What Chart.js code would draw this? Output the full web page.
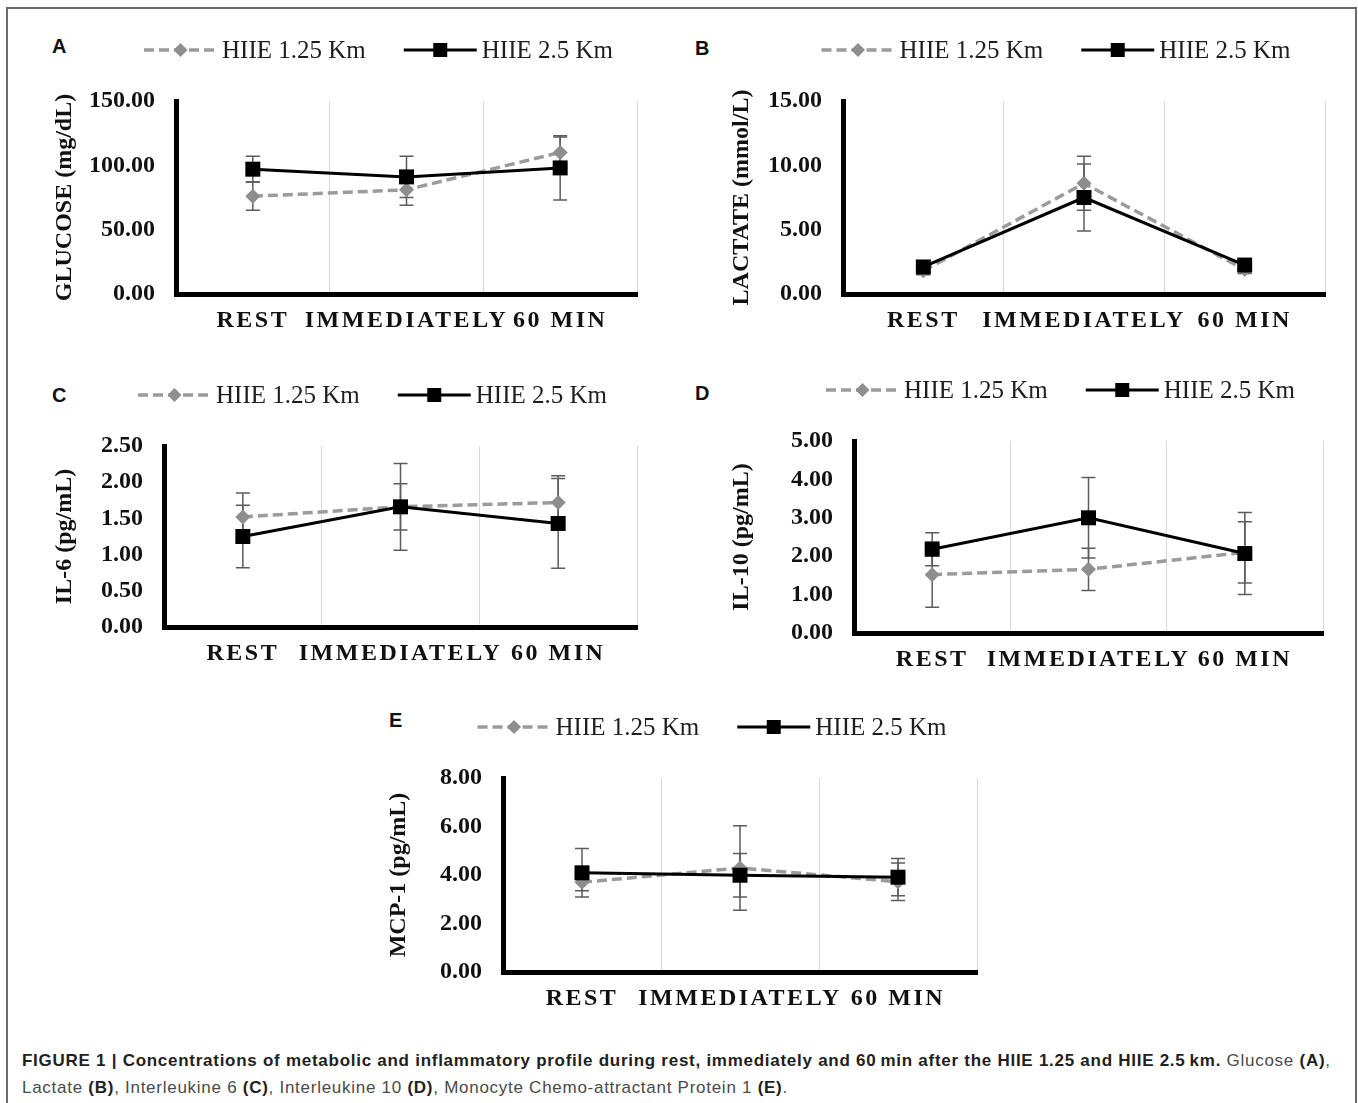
<!DOCTYPE html>
<html>
<head>
<meta charset="utf-8">
<script src="https://cdn.jsdelivr.net/npm/chart.js@4/dist/chart.umd.min.js"></script>
<style>
html,body{margin:0;padding:0;background:#fff;}
body{width:1358px;height:1103px;position:relative;overflow:hidden;font-family:"Liberation Sans",Arial,sans-serif;}
#frame{position:absolute;left:6px;top:7px;width:1351px;height:1200px;border:2px solid #6a6a6a;box-sizing:border-box;}
.pl{position:absolute;font:bold 20px "Liberation Sans",Arial,sans-serif;color:#111;line-height:1;}
canvas{position:absolute;}
.caption{position:absolute;left:22px;top:1047px;white-space:nowrap;font-size:17px;letter-spacing:0.73px;line-height:27px;color:#4a4a4a;}
.caption b{color:#231f20;}
</style>
</head>
<body>
<div id="frame"></div>
<div class="pl" style="left:52px;top:36px;">A</div>
<div class="pl" style="left:695px;top:38px;">B</div>
<div class="pl" style="left:52px;top:385px;">C</div>
<div class="pl" style="left:695px;top:383px;">D</div>
<div class="pl" style="left:389px;top:710px;">E</div>
<div class="caption">
<b>FIGURE 1 | Concentrations of metabolic and inflammatory profile during rest, immediately and 60&#8201;min after the HIIE 1.25 and HIIE 2.5&#8201;km.</b> Glucose <b>(A)</b>,<br>
Lactate <b>(B)</b>, Interleukine 6 <b>(C)</b>, Interleukine 10 <b>(D)</b>, Monocyte Chemo-attractant Protein 1 <b>(E)</b>.
</div>
<script>
// ---------- DATA ----------
const categories = ['REST', 'IMMEDIATELY', '60 MIN'];
const seriesNames = ['HIIE 1.25 Km', 'HIIE 2.5 Km'];

const glucoseTitle = 'GLUCOSE (mg/dL)';
const glucoseTicks = [0, 50, 100, 150];
const glucose125 = [76, 81, 110];
const glucose125Err = [11, 12, 12];
const glucose25 = [97, 91, 98];
const glucose25Err = [10, 16, 25];

const lactateTitle = 'LACTATE (mmol/L)';
const lactateTicks = [0, 5, 10, 15];
const lactate125 = [1.8, 8.6, 1.9];
const lactate125Err = [0.3, 2.1, 0.3];
const lactate25 = [2.1, 7.5, 2.25];
const lactate25Err = [0.3, 2.6, 0.3];

const il6Title = 'IL-6 (pg/mL)';
const il6Ticks = [0, 0.5, 1, 1.5, 2, 2.5];
const il6_125 = [1.52, 1.66, 1.72];
const il6_125Err = [0.33, 0.32, 0.37];
const il6_25 = [1.25, 1.66, 1.43];
const il6_25Err = [0.43, 0.6, 0.62];

const il10Title = 'IL-10 (pg/mL)';
const il10Ticks = [0, 1, 2, 3, 4, 5];
const il10_125 = [1.52, 1.66, 2.1];
const il10_125Err = [0.85, 0.55, 0.8];
const il10_25 = [2.18, 3.0, 2.07];
const il10_25Err = [0.43, 1.05, 1.07];

const mcp1Title = 'MCP-1 (pg/mL)';
const mcp1Ticks = [0, 2, 4, 6, 8];
const mcp1_125 = [3.7, 4.29, 3.72];
const mcp1_125Err = [0.35, 1.74, 0.77];
const mcp1_25 = [4.09, 3.99, 3.91];
const mcp1_25Err = [1.0, 0.9, 0.77];

// ---------- LAYOUT (page coordinates of each plot area) ----------
const layoutA = {l:176, r:637, t:101, b:294, titleX:64};
const layoutB = {l:843, r:1325, t:101, b:294, titleX:741};
const layoutC = {l:164, r:637, t:446, b:627, titleX:64};
const layoutD = {l:854, r:1323, t:441, b:633, titleX:741};
const layoutE = {l:503, r:977, t:778, b:972, titleX:398};

const SERIF = '"Liberation Serif", "Times New Roman", serif';

class SpacedCategoryScale extends Chart.CategoryScale {
  drawLabels(area) {
    const ctx = this.ctx;
    ctx.save();
    ctx.letterSpacing = '2.5px';
    super.drawLabels(area);
    ctx.restore();
  }
}
SpacedCategoryScale.id = 'spacedCategory';
SpacedCategoryScale.defaults = Chart.CategoryScale.defaults;
Chart.register(SpacedCategoryScale);

const errorBarPlugin = {
  id: 'errorBars',
  beforeDatasetsDraw(chart) {
    const ctx = chart.ctx, xs = chart.scales.x, ys = chart.scales.y;
    ctx.save();
    ctx.strokeStyle = '#5c5c5c';
    ctx.lineWidth = 1.5;
    ctx.setLineDash([]);
    chart.data.datasets.forEach(ds => {
      ds.data.forEach((v, i) => {
        const e = ds.errors[i];
        const px = xs.getPixelForValue(i);
        const yt = ys.getPixelForValue(v + e);
        const yb = ys.getPixelForValue(v - e);
        ctx.beginPath();
        ctx.moveTo(px, yt); ctx.lineTo(px, yb);
        ctx.moveTo(px - 7, yt); ctx.lineTo(px + 7, yt);
        ctx.moveTo(px - 7, yb); ctx.lineTo(px + 7, yb);
        ctx.stroke();
      });
    });
    ctx.restore();
  }
};

const legendPlugin = {
  id: 'customLegend',
  afterDraw(chart) {
    const ctx = chart.ctx, ca = chart.chartArea;
    const ds = chart.data.datasets;
    const y = ca.top - 51;
    ctx.save();
    ctx.font = '25px ' + SERIF;
    ctx.textBaseline = 'middle';
    ctx.textAlign = 'left';
    const segW = 73, gapT = 5, gapItem = 38;
    const w0 = ctx.measureText(ds[0].label).width;
    const w1 = ctx.measureText(ds[1].label).width;
    const total = segW + gapT + w0 + gapItem + segW + gapT + w1;
    let x = (ca.left + ca.right) / 2 - 28 - total / 2;
    ds.forEach((d, i) => {
      ctx.strokeStyle = d.borderColor;
      ctx.lineWidth = d.borderWidth;
      ctx.setLineDash(d.borderDash || []);
      ctx.beginPath();
      ctx.moveTo(x, y); ctx.lineTo(x + segW, y);
      ctx.stroke();
      ctx.setLineDash([]);
      const cx = x + segW / 2;
      ctx.fillStyle = d.pointBackgroundColor;
      ctx.beginPath();
      if (d.pointStyle === 'rectRot') {
        const r = 7;
        ctx.moveTo(cx, y - r); ctx.lineTo(cx + r, y); ctx.lineTo(cx, y + r); ctx.lineTo(cx - r, y);
        ctx.closePath();
      } else {
        const s = 7;
        ctx.rect(cx - s, y - s, 2 * s, 2 * s);
      }
      ctx.fill();
      x += segW + gapT;
      ctx.fillStyle = '#1e1e1e';
      ctx.fillText(d.label, x, y + 1);
      x += (i === 0 ? w0 : w1) + gapItem;
    });
    ctx.restore();
  }
};

function makePanel(title, ticks, s1, e1, s2, e2, lay) {
  const canvas = document.createElement('canvas');
  const left = Math.round(lay.titleX - 14.4);
  const top = lay.t - 75;
  const width = lay.r + 14 - left;
  const height = lay.b + 45 - top;
  canvas.width = width; canvas.height = height;
  canvas.style.left = left + 'px'; canvas.style.top = top + 'px';
  canvas.style.width = width + 'px'; canvas.style.height = height + 'px';
  document.body.appendChild(canvas);
  const yWidth = lay.l - left;
  const boldFont = {family: SERIF, size: 24, weight: 'bold'};
  new Chart(canvas, {
    type: 'line',
    data: {
      labels: categories,
      datasets: [
        {label: seriesNames[0], data: s1, errors: e1, borderColor: '#9b9b9b', borderWidth: 3.5,
         borderDash: [10, 5], pointStyle: 'rectRot', pointRadius: 7.5, pointHoverRadius: 7.5,
         pointBackgroundColor: '#8e8e8e', pointBorderColor: '#8e8e8e', pointBorderWidth: 0,
         order: 2, clip: false, tension: 0},
        {label: seriesNames[1], data: s2, errors: e2, borderColor: '#000', borderWidth: 3,
         pointStyle: 'rect', pointRadius: 10.6, pointHoverRadius: 10.6,
         pointBackgroundColor: '#000', pointBorderColor: '#000', pointBorderWidth: 0,
         order: 1, clip: false, tension: 0}
      ]
    },
    options: {
      responsive: false, animation: false, devicePixelRatio: 1, events: [],
      layout: {padding: {top: 75, right: 14, left: 0, bottom: 0}},
      plugins: {legend: {display: false}, tooltip: {enabled: false}},
      scales: {
        x: {
          type: 'spacedCategory', offset: true,
          grid: {offset: true, color: '#d9d9d9', lineWidth: 1, drawTicks: false},
          border: {display: true, color: '#000', width: 5},
          ticks: {padding: 12, color: '#111', font: boldFont, maxRotation: 0, autoSkip: false},
          afterFit: s => { s.height = 45; }
        },
        y: {
          type: 'linear', min: ticks[0], max: ticks[ticks.length - 1],
          afterBuildTicks: s => { s.ticks = ticks.map(v => ({value: v})); },
          grid: {display: true, drawOnChartArea: false, drawTicks: false},
          border: {display: true, color: '#000', width: 5},
          ticks: {padding: 21, color: '#111', font: boldFont, callback: v => Number(v).toFixed(2)},
          title: {display: true, text: title, padding: 0, color: '#111', font: boldFont},
          afterFit: s => { s.width = yWidth; }
        }
      }
    },
    plugins: [errorBarPlugin, legendPlugin]
  });
}

makePanel(glucoseTitle, glucoseTicks, glucose125, glucose125Err, glucose25, glucose25Err, layoutA);
makePanel(lactateTitle, lactateTicks, lactate125, lactate125Err, lactate25, lactate25Err, layoutB);
makePanel(il6Title, il6Ticks, il6_125, il6_125Err, il6_25, il6_25Err, layoutC);
makePanel(il10Title, il10Ticks, il10_125, il10_125Err, il10_25, il10_25Err, layoutD);
makePanel(mcp1Title, mcp1Ticks, mcp1_125, mcp1_125Err, mcp1_25, mcp1_25Err, layoutE);
</script>
</body>
</html>
